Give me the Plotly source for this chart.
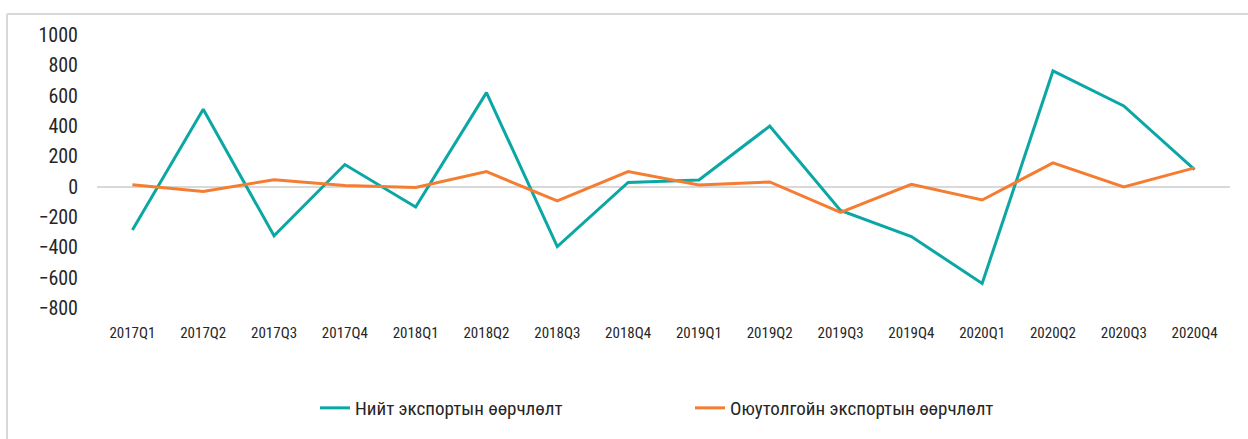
import plotly.graph_objects as go

categories = ["2017Q1", "2017Q2", "2017Q3", "2017Q4", "2018Q1", "2018Q2", "2018Q3", "2018Q4",
              "2019Q1", "2019Q2", "2019Q3", "2019Q4", "2020Q1", "2020Q2", "2020Q3", "2020Q4"]
total_export = [-285, 510, -324, 146, -134, 620, -395, 28, 44, 399, -157, -329, -638, 763, 532, 113]
oyutolgoi_export = [13, -31, 46, 8, -5, 99, -93, 99, 11, 31, -170, 15, -88, 157, -2, 124]
series_names = ["Нийт экспортын өөрчлөлт", "Оюутолгойн экспортын өөрчлөлт"]
y_ticks = [-800, -600, -400, -200, 0, 200, 400, 600, 800, 1000]

FONT = "Liberation Sans Narrow, Arial Narrow, Roboto Condensed, DejaVu Sans Condensed, sans-serif"
TEAL = "#0BA7A5"
ORANGE = "#F47D32"

fig = go.Figure()
fig.add_trace(go.Scatter(x=categories, y=total_export, mode="lines", name=series_names[0],
                         line=dict(color=TEAL, width=3)))
fig.add_trace(go.Scatter(x=categories, y=oyutolgoi_export, mode="lines", name=series_names[1],
                         line=dict(color=ORANGE, width=3)))

# outer frame (top and left edges visible)
fig.add_shape(type="line", xref="paper", yref="paper",
              x0=(7 - 97) / 1133, x1=(1250 - 97) / 1133,
              y0=(308 - 14) / 273, y1=(308 - 14) / 273,
              line=dict(color="#D9D9D9", width=2))
fig.add_shape(type="line", xref="paper", yref="paper",
              x0=(7 - 97) / 1133, x1=(7 - 97) / 1133,
              y0=(308 - 14) / 273, y1=(308 - 445) / 273,
              line=dict(color="#D9D9D9", width=2))

fig.update_layout(
    width=1248, height=439,
    margin=dict(l=97, r=18, t=35, b=131),
    plot_bgcolor="white", paper_bgcolor="white",
    font=dict(family=FONT, color="#262626"),
    showlegend=True,
    legend=dict(orientation="h", xref="container", yref="container",
                x=315 / 1248, xanchor="left", y=1 - 408 / 439, yanchor="middle",
                entrywidth=330, font=dict(size=19, family=FONT, color="#262626"),
                bgcolor="rgba(0,0,0,0)"),
    xaxis=dict(range=[-0.5, 15.5], showgrid=False, zeroline=False, showline=False, ticks="",
               tickfont=dict(size=15, family=FONT, color="#262626"),
               ticklabelstandoff=14),
    yaxis=dict(range=[-800, 1000], tickvals=y_ticks, showgrid=False,
               zeroline=True, zerolinecolor="#D9D9D9", zerolinewidth=2,
               showline=False, ticks="",
               tickfont=dict(size=20, family=FONT, color="#262626"),
               ticklabelstandoff=18),
)

fig.write_html("out.html", config={"displayModeBar": False},
               post_script="document.body.style.margin='0px';")
